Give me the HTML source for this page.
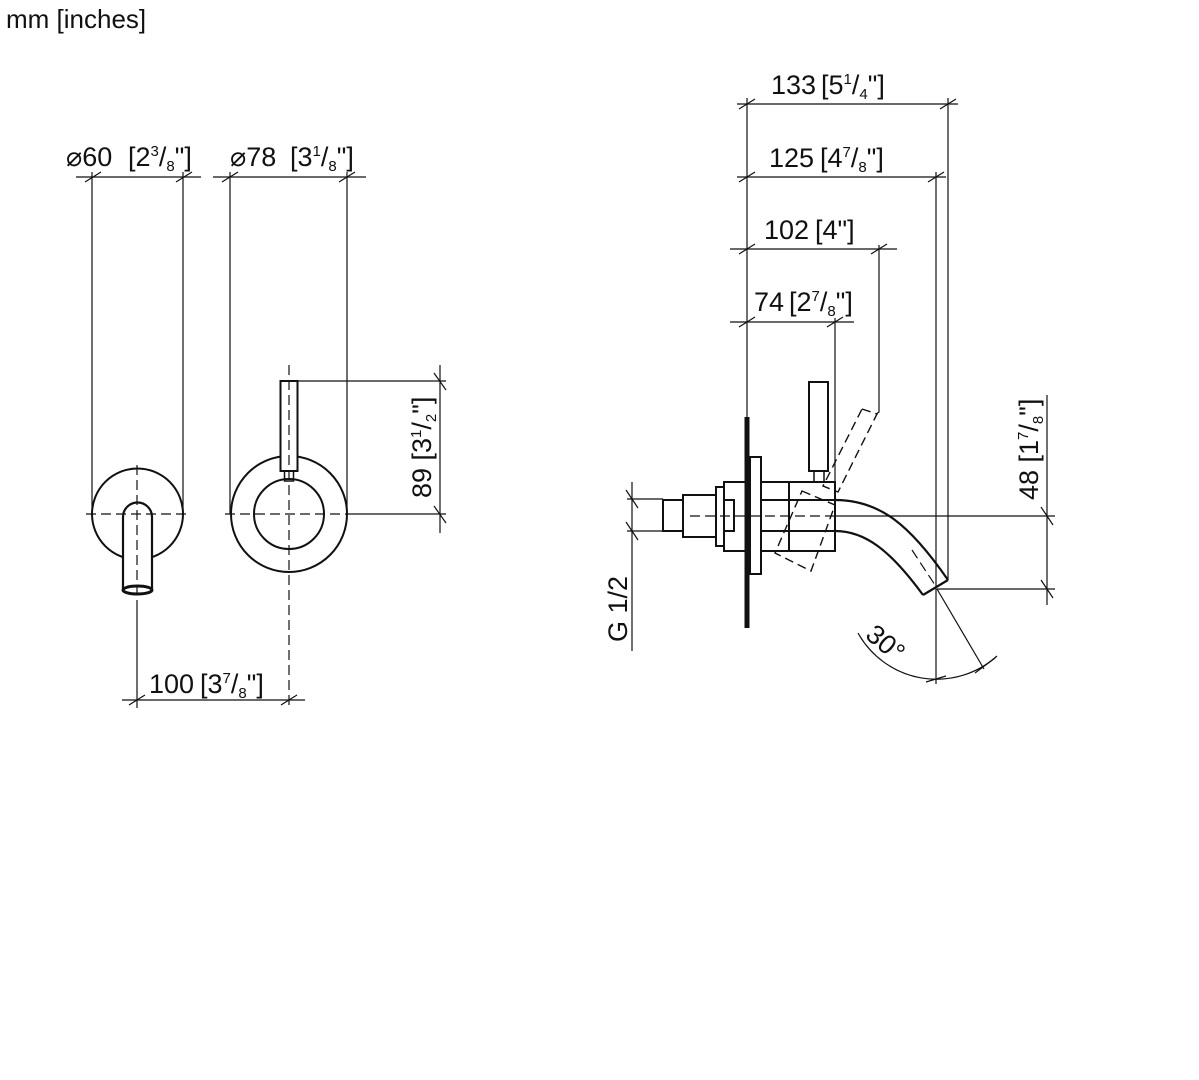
<!DOCTYPE html>
<html><head><meta charset="utf-8"><style>
html,body{margin:0;padding:0;background:#fff;}
svg{display:block;}
text{font-family:"Liberation Sans",sans-serif;fill:#111;}
</style></head><body>
<svg width="1199" height="1080" viewBox="0 0 1199 1080" xmlns="http://www.w3.org/2000/svg">
<rect width="1199" height="1080" fill="#fff"/>
<text x="6" y="28" font-size="26">mm [inches]</text>

<g stroke="#111" fill="none" stroke-width="1.2">
<line x1="76" y1="177" x2="201" y2="177"/>
<line x1="85" y1="182" x2="101" y2="172"/><line x1="176" y1="182" x2="192" y2="172"/>
<line x1="92" y1="172" x2="92" y2="514"/><line x1="183" y1="172" x2="183" y2="514"/>
<line x1="213" y1="177" x2="366" y2="177"/>
<line x1="222" y1="182" x2="238" y2="172"/><line x1="339" y1="182" x2="355" y2="172"/>
<line x1="230" y1="172" x2="230" y2="514"/><line x1="347" y1="172" x2="347" y2="514"/>

<circle cx="137.5" cy="514" r="45.5" stroke-width="2" fill="#fff"/>
<path d="M123 590 V517 A14.5 14.5 0 0 1 152 517 V590" stroke-width="2.2" fill="#fff"/>
<ellipse cx="137.5" cy="590" rx="14.5" ry="4" stroke-width="3"/>
<line x1="137" y1="465" x2="137" y2="600" stroke-dasharray="10,5"/>
<line x1="86" y1="514" x2="189" y2="514" stroke-dasharray="10,5"/>

<circle cx="289" cy="514" r="58" stroke-width="2"/>
<circle cx="289" cy="514" r="35" stroke-width="2"/>
<rect x="280.5" y="381" width="17" height="90" stroke-width="2" fill="#fff"/>
<rect x="284.5" y="471" width="9" height="10" stroke-width="1.5"/>
<line x1="289" y1="365" x2="289" y2="705" stroke-dasharray="10,5"/>
<line x1="225" y1="514" x2="353" y2="514" stroke-dasharray="10,5"/>
<line x1="353" y1="514" x2="446" y2="514"/>
<line x1="298" y1="381" x2="446" y2="381"/>
<line x1="440" y1="365" x2="440" y2="533"/>
<line x1="434" y1="373" x2="446" y2="390"/><line x1="434" y1="506" x2="446" y2="523"/>

<line x1="122" y1="700" x2="305" y2="700"/>
<line x1="137" y1="600" x2="137" y2="708"/>
<line x1="129" y1="705" x2="145" y2="695"/><line x1="281" y1="705" x2="297" y2="695"/>

<line x1="747" y1="98" x2="747" y2="417"/>
<line x1="737" y1="104" x2="958" y2="104"/>
<line x1="739" y1="109" x2="755" y2="99"/><line x1="940" y1="109" x2="956" y2="99"/>
<line x1="948" y1="98" x2="948" y2="580"/>
<line x1="737" y1="177" x2="946" y2="177"/>
<line x1="739" y1="182" x2="755" y2="172"/><line x1="928" y1="182" x2="944" y2="172"/>
<line x1="936" y1="172" x2="936" y2="684"/>
<line x1="730" y1="249" x2="897" y2="249"/>
<line x1="739" y1="254" x2="755" y2="244"/><line x1="871" y1="254" x2="887" y2="244"/>
<polyline points="879,245 879,412 876,414"/>
<line x1="730" y1="322" x2="854" y2="322"/>
<line x1="739" y1="327" x2="755" y2="317"/><line x1="827" y1="327" x2="843" y2="317"/>
<line x1="835" y1="318" x2="835" y2="482"/>

<line x1="747" y1="417" x2="747" y2="628" stroke-width="5"/>
<rect x="750" y="457" width="11" height="117" stroke-width="2"/>
<rect x="724" y="482" width="23" height="69" stroke-width="2"/>
<rect x="716" y="487" width="8" height="59" stroke-width="2"/>
<rect x="724" y="500" width="10" height="31" stroke-width="2"/>
<rect x="683" y="495" width="33" height="42" stroke-width="2"/>
<rect x="663" y="500" width="20" height="31" stroke-width="2"/>
<rect x="761" y="482" width="28" height="69" stroke-width="2" fill="#fff"/>
<path d="M789 482 H835 V551 H789 Z" stroke-width="2"/>
<line x1="761" y1="500" x2="835" y2="500" stroke-width="2"/>
<line x1="761" y1="531" x2="835" y2="531" stroke-width="2"/>
<path d="M835 500 C880 500 910 525 948 580" stroke-width="2.2"/>
<path d="M835 531 C865 531 890 550 923 595" stroke-width="2.2"/>
<line x1="923" y1="595" x2="948" y2="580" stroke-width="2.2"/>
<path d="M912 550 L935 585" stroke-dasharray="10,5"/>
<rect x="809" y="382" width="19" height="89" stroke-width="2" fill="#fff"/>
<rect x="814" y="471" width="10" height="11" stroke-width="1.5"/>
<g stroke-dasharray="9,5" stroke-width="1.4">
<polygon points="862,409 877,414 838,492 823,486"/>
<polygon points="802,491 835,505 811,571 775,553"/>
</g>
<line x1="690" y1="516" x2="835" y2="516" stroke-dasharray="10,5"/>
<line x1="835" y1="516" x2="1055" y2="516"/>
<line x1="937" y1="589" x2="1055" y2="589"/>
<line x1="1047" y1="395" x2="1047" y2="605"/>
<line x1="1041" y1="507" x2="1053" y2="525"/><line x1="1041" y1="580" x2="1053" y2="598"/>
<line x1="632" y1="482" x2="632" y2="651"/>
<line x1="627" y1="499" x2="663" y2="499"/><line x1="627" y1="531" x2="663" y2="531"/>
<line x1="626" y1="490" x2="638" y2="508"/><line x1="626" y1="522" x2="638" y2="540"/>
<line x1="937" y1="589" x2="984" y2="669"/>
<path d="M858 633 A90 90 0 0 0 997 656"/>
<line x1="975" y1="673" x2="995" y2="658"/><line x1="926" y1="682" x2="946" y2="676"/>
</g>

<g font-size="27">
<text x="66" y="166">⌀60</text>
<text x="128" y="166">[2<tspan font-size="15" dy="-10">3</tspan><tspan dy="10">/</tspan><tspan font-size="15" dy="5">8</tspan><tspan dy="-5">"]</tspan></text>
<text x="230" y="166">⌀78</text>
<text x="290" y="166">[3<tspan font-size="15" dy="-10">1</tspan><tspan dy="10">/</tspan><tspan font-size="15" dy="5">8</tspan><tspan dy="-5">"]</tspan></text>
<text x="149" y="693">100</text>
<text x="200" y="693">[3<tspan font-size="15" dy="-10">7</tspan><tspan dy="10">/</tspan><tspan font-size="15" dy="5">8</tspan><tspan dy="-5">"]</tspan></text>
<text transform="translate(431,498) rotate(-90)">89 [3<tspan font-size="15" dy="-10">1</tspan><tspan dy="10">/</tspan><tspan font-size="15" dy="5">2</tspan><tspan dy="-5">"]</tspan></text>
<text x="771" y="94">133</text>
<text x="821" y="94">[5<tspan font-size="15" dy="-10">1</tspan><tspan dy="10">/</tspan><tspan font-size="15" dy="5">4</tspan><tspan dy="-5">"]</tspan></text>
<text x="769" y="167">125</text>
<text x="820" y="167">[4<tspan font-size="15" dy="-10">7</tspan><tspan dy="10">/</tspan><tspan font-size="15" dy="5">8</tspan><tspan dy="-5">"]</tspan></text>
<text x="764" y="239">102</text>
<text x="815" y="239">[4"]</text>
<text x="754" y="311">74</text>
<text x="789" y="311">[2<tspan font-size="15" dy="-10">7</tspan><tspan dy="10">/</tspan><tspan font-size="15" dy="5">8</tspan><tspan dy="-5">"]</tspan></text>
<text transform="translate(1038,500) rotate(-90)">48 [1<tspan font-size="15" dy="-10">7</tspan><tspan dy="10">/</tspan><tspan font-size="15" dy="5">8</tspan><tspan dy="-5">"]</tspan></text>
<text transform="translate(627,642) rotate(-90)">G 1/2</text>
<text transform="translate(864,637) rotate(40)">30°</text>
</g>
</svg>
</body></html>
